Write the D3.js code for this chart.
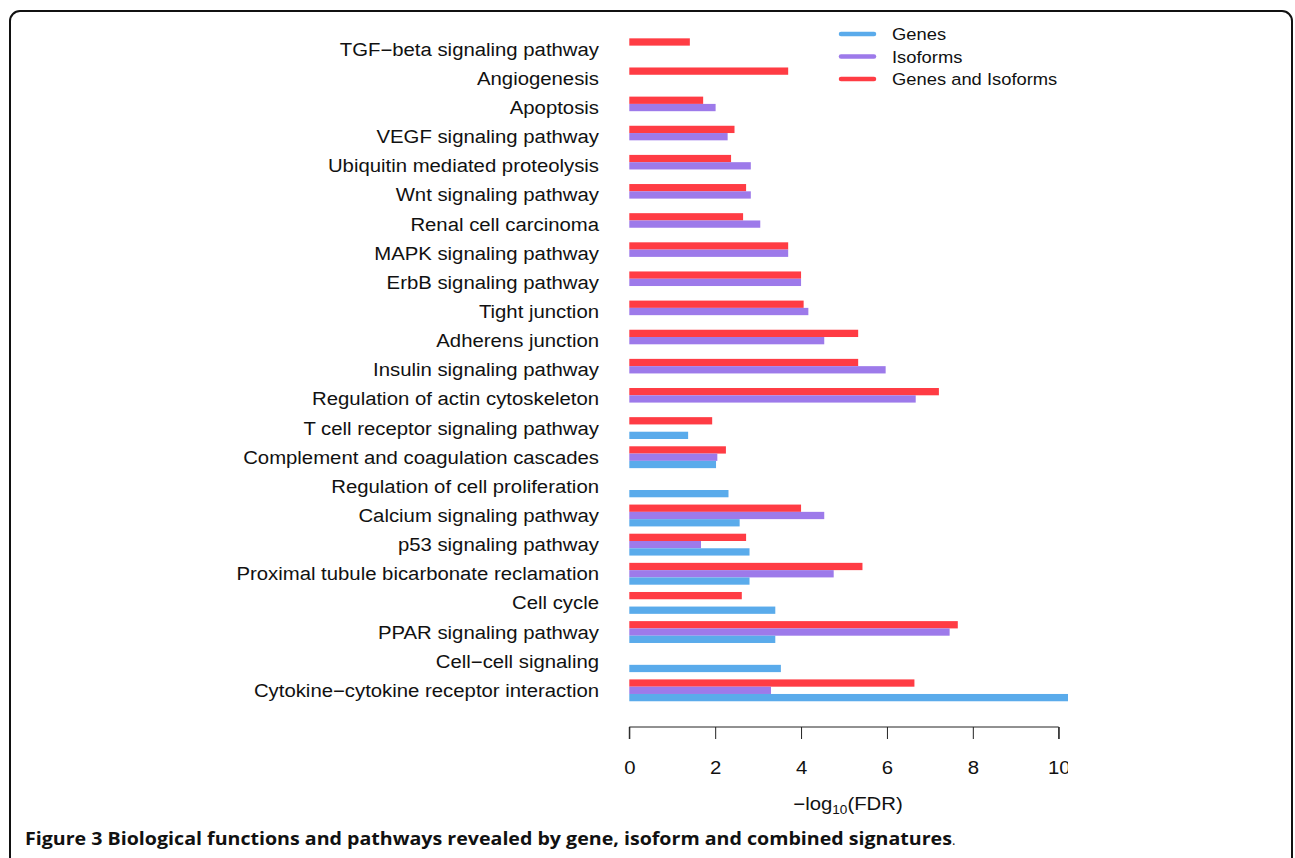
<!DOCTYPE html>
<html>
<head>
<meta charset="utf-8">
<script src="https://cdn.jsdelivr.net/npm/d3@7"></script>
<style>
  html, body { margin: 0; padding: 0; background: #fff; }
  svg { display: block; }
</style>
</head>
<body>
<svg id="chart" width="1295" height="858"></svg>
<script>
// ---------------- DATA ----------------
const categories = [
  "TGF\u2212beta signaling pathway",
  "Angiogenesis",
  "Apoptosis",
  "VEGF signaling pathway",
  "Ubiquitin mediated proteolysis",
  "Wnt signaling pathway",
  "Renal cell carcinoma",
  "MAPK signaling pathway",
  "ErbB signaling pathway",
  "Tight junction",
  "Adherens junction",
  "Insulin signaling pathway",
  "Regulation of actin cytoskeleton",
  "T cell receptor signaling pathway",
  "Complement and coagulation cascades",
  "Regulation of cell proliferation",
  "Calcium signaling pathway",
  "p53 signaling pathway",
  "Proximal tubule bicarbonate reclamation",
  "Cell cycle",
  "PPAR signaling pathway",
  "Cell\u2212cell signaling",
  "Cytokine\u2212cytokine receptor interaction"
];
const seriesNames = ["Genes", "Isoforms", "Genes and Isoforms"];
const genesValues = [null, null, null, null, null, null, null, null, null, null, null, null, null,
  1.37, 2.02, 2.31, 2.57, 2.80, 2.80, 3.40, 3.40, 3.53, 10.4];
const isoformsValues = [null, null, 2.01, 2.29, 2.83, 2.83, 3.05, 3.70, 4.00, 4.17, 4.54, 5.97, 6.67,
  null, 2.05, null, 4.54, 1.67, 4.76, null, 7.46, null, 3.30];
const combinedValues = [1.41, 3.70, 1.72, 2.45, 2.37, 2.72, 2.65, 3.70, 4.00, 4.06, 5.33, 5.33, 7.21,
  1.93, 2.25, null, 4.00, 2.72, 5.43, 2.62, 7.65, null, 6.64];
const xTicks = [0, 2, 4, 6, 8, 10];
const xDomain = [0, 10];
const axisTitleMain = "\u2212log";
const axisTitleSub = "10";
const axisTitleEnd = "(FDR)";
const captionBold = "Figure 3";
const captionText = " Biological functions and pathways revealed by gene, isoform and combined signatures";

// ---------------- STYLE ----------------
const colors = { "Genes": "#5aabeb", "Isoforms": "#9d7aea", "Genes and Isoforms": "#ff3c44" };
const stackOrder = ["Genes and Isoforms", "Isoforms", "Genes"]; // top to bottom within a group
const FONT = "'Liberation Sans', Arial, Helvetica, sans-serif";
const SX = 1.13; // horizontal stretch of original typesetting

const svg = d3.select("#chart");

// frame
svg.append("rect")
  .attr("x", 10).attr("y", 11)
  .attr("width", 1282).attr("height", 920)
  .attr("rx", 10).attr("ry", 10)
  .attr("fill", "none").attr("stroke", "#111").attr("stroke-width", 2);

// scales
const x = d3.scaleLinear().domain(xDomain).range([629.3, 1058.7]);
const y = d3.scaleBand().domain(categories).range([34.7, 704.9]).paddingInner(0.25).paddingOuter(0.125);
const ySub = d3.scaleBand().domain(stackOrder).range([0, y.bandwidth()]);

const valueBySeries = {
  "Genes": genesValues,
  "Isoforms": isoformsValues,
  "Genes and Isoforms": combinedValues
};

// clip (the original figure is cropped at the right)
svg.append("defs").append("clipPath").attr("id", "crop")
  .append("rect").attr("x", 0).attr("y", 0).attr("width", 1068).attr("height", 858);

const plot = svg.append("g").attr("clip-path", "url(#crop)");

// bars
const barData = [];
categories.forEach((c, i) => {
  stackOrder.forEach(s => {
    const v = valueBySeries[s][i];
    if (v != null) barData.push({ cat: c, series: s, value: v });
  });
});
plot.selectAll("rect.bar").data(barData).join("rect")
  .attr("class", "bar")
  .attr("x", x(0))
  .attr("y", d => y(d.cat) + ySub(d.series))
  .attr("width", d => x(d.value) - x(0))
  .attr("height", ySub.bandwidth())
  .attr("fill", d => colors[d.series]);

// category labels
svg.append("g").selectAll("text").data(categories).join("text")
  .attr("transform", d => `translate(599,${y(d) + y.bandwidth() / 2}) scale(${SX},1)`)
  .attr("text-anchor", "end")
  .attr("dy", "0.36em")
  .attr("font-family", FONT)
  .attr("font-size", 18)
  .attr("fill", "#111")
  .text(d => d);

// x axis
const axisG = plot.append("g").attr("transform", "translate(0,727)");
axisG.call(d3.axisBottom(x).tickValues(xTicks).tickSize(12).tickPadding(0).tickFormat(() => ""));
axisG.select(".domain").attr("d", `M${x(0)},12V0H${x(10)}V12`).attr("stroke", "#222");
axisG.selectAll(".tick line").attr("stroke", "#222");
axisG.selectAll(".tick").append("text")
  .attr("transform", `translate(0,41) scale(${SX},1)`)
  .attr("text-anchor", "middle")
  .attr("dy", "0.36em")
  .attr("font-family", FONT)
  .attr("font-size", 18)
  .attr("fill", "#111")
  .text(d => d);

// axis title
const at = svg.append("text")
  .attr("transform", `translate(848,810) scale(${SX},1)`)
  .attr("text-anchor", "middle")
  .attr("font-family", FONT)
  .attr("font-size", 18)
  .attr("fill", "#111");
at.append("tspan").text(axisTitleMain);
at.append("tspan").attr("font-size", 12).attr("dy", 4).text(axisTitleSub);
at.append("tspan").attr("dy", -4).text(axisTitleEnd);

// legend
const lg = svg.append("g");
seriesNames.forEach((s, i) => {
  const yy = 34 + i * 22.5;
  lg.append("line")
    .attr("x1", 841).attr("x2", 874).attr("y1", yy).attr("y2", yy)
    .attr("stroke", colors[s]).attr("stroke-width", 4.5).attr("stroke-linecap", "round");
  lg.append("text")
    .attr("transform", `translate(892,${yy}) scale(1.08,1)`)
    .attr("dy", "0.36em")
    .attr("font-family", FONT)
    .attr("font-size", 17)
    .attr("fill", "#111")
    .text(s);
});

// caption
const cap = svg.append("text")
  .attr("transform", "translate(25,845) scale(1.09,1)")
  .attr("font-family", "'Open Sans', 'Noto Sans', sans-serif")
  .attr("font-size", 18)
  .attr("fill", "#111");
cap.append("tspan").attr("font-weight", "bold").text(captionBold);
cap.append("tspan").attr("font-weight", "bold").text(captionText);
cap.append("tspan").attr("font-size", 12).text(".");
</script>
</body>
</html>
